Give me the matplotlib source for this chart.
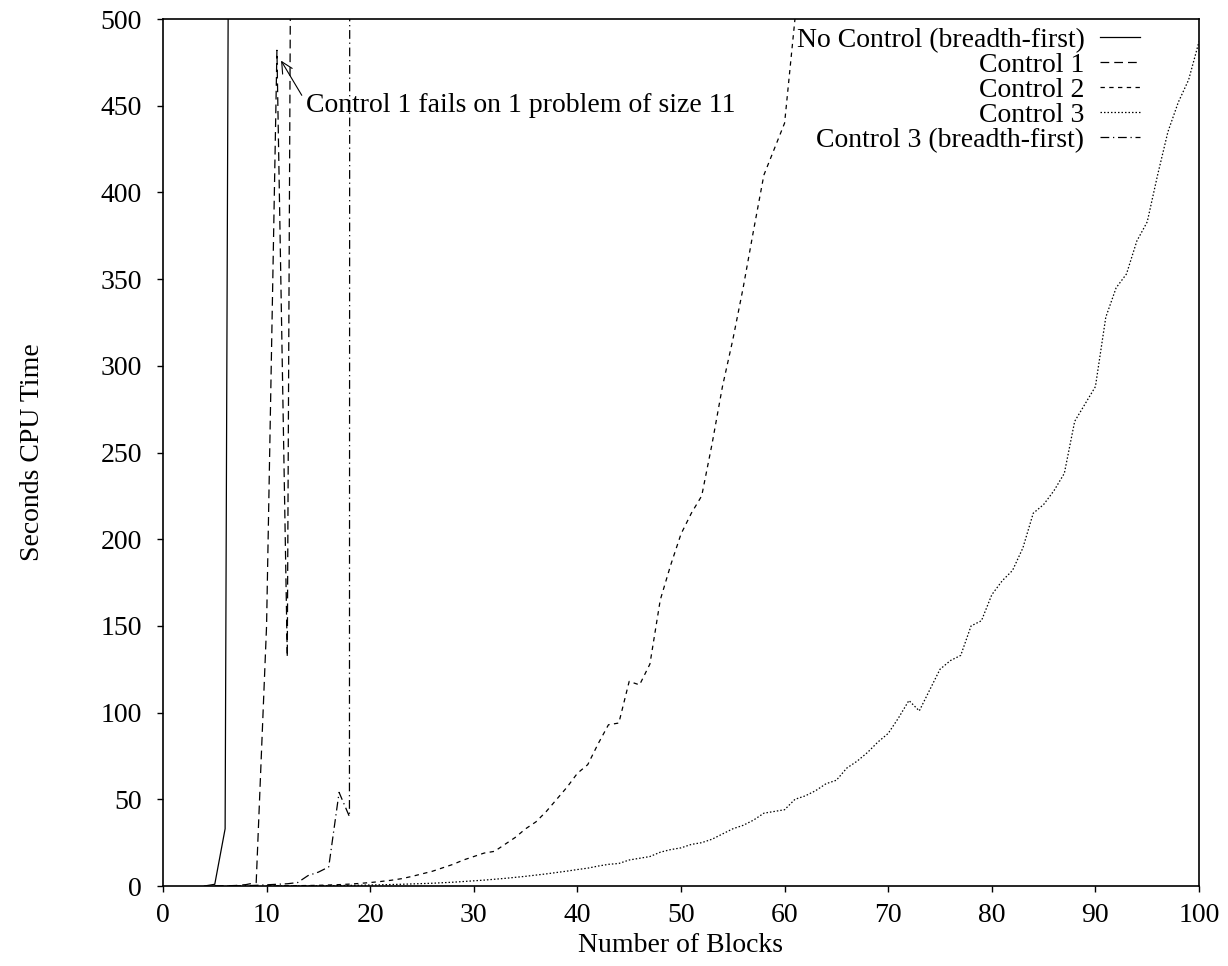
import numpy as np
import matplotlib.pyplot as plt

plt.rcParams['font.family'] = ['Liberation Serif', 'DejaVu Serif']
plt.rcParams['font.size'] = 20

# no control, breadth-first
nc_x = [4, 5, 6, 7]
nc_y = [0, 1, 33, 1640]

# control 1 (fails on one problem of size 11)
c1_x = [5, 6, 7, 8, 9, 10, 11, 12, 13]
c1_y = [0, 0.1, 0.3, 0.8, 2, 150, 482, 132, 1400]

# control 2
c2_x = list(range(10, 63))
c2_y = [0.05, 0.1, 0.15, 0.2, 0.3, 0.4, 0.6, 0.8, 1.1, 1.5,
        2, 2.6, 3.3, 4.2, 5.5, 7, 8.5, 10.5, 12.5, 15,
        17, 19, 20, 24, 28, 33, 37, 43, 50, 57,
        65, 70, 82, 93, 94, 118, 116, 128, 165, 185,
        203, 215, 225, 255, 288, 315, 345, 378, 410, 425,
        440, 500, 750]

# control 3
c3_x = list(range(10, 101))
c3_y = [0.02, 0.03, 0.05, 0.07, 0.1, 0.15, 0.2, 0.27, 0.35, 0.45,
        0.6, 0.7, 0.85, 1.0, 1.2, 1.4, 1.6, 1.9, 2.2, 2.6,
        3, 3.4, 3.9, 4.4, 5, 5.6, 6.3, 7, 7.8, 8.6,
        9.5, 10.3, 11.5, 12.5, 13, 15, 16, 17, 19.5, 21,
        22, 24, 25, 27, 30, 33, 35, 38, 42, 43,
        44, 50, 52, 55, 59, 61, 68, 72, 77, 83,
        88, 97, 107, 101, 113, 125, 130, 133, 150, 153,
        168, 176, 182, 195, 215, 220, 228, 238, 268, 278,
        288, 328, 345, 353, 372, 383, 410, 435, 452, 465,
        487]

# control 3, breadth-first
c3b_x = [5, 6, 7, 8, 9, 10, 11, 12, 13, 14, 15, 16, 17, 18, 19]
c3b_y = [0, 0, 0.1, 0.2, 0.4, 0.7, 1, 1.3, 2, 6, 8, 11, 54, 40, 20000]

fig = plt.figure(figsize=(12.28, 9.66), dpi=100)
ax = fig.add_axes([0.1327, 0.0828, 0.8437, 0.8975])

lw = 0.9
ax.plot(nc_x, nc_y, color='black', lw=lw, label='No Control (breadth-first)')
ax.plot(c1_x, c1_y, color='black', lw=lw, dashes=(7, 4), label='Control 1')
ax.plot(c2_x, c2_y, color='black', lw=lw, dashes=(3.5, 3.5), label='Control 2')
ax.plot(c3_x, c3_y, color='black', lw=lw, dashes=(1.2, 1.6), label='Control 3')
ax.plot(c3b_x, c3b_y, color='black', lw=lw, dashes=(7, 3, 1, 3),
        label='Control 3 (breadth-first)')

ax.annotate('', xy=(11.4, 476), xytext=(13.4, 456),
            arrowprops=dict(arrowstyle='->', lw=0.8, color='black',
                            shrinkA=0, shrinkB=0))
ax.text(13.8, 450, 'Control 1 fails on 1 problem of size 11', va='center', ha='left')

ax.set_xlim(0, 100)
ax.set_ylim(0, 500)
ax.set_xticks(np.arange(0, 101, 10))
ax.set_yticks(np.arange(0, 501, 50))
ax.tick_params(direction='out', length=4, width=1)
ax.tick_params(axis='x', pad=8)
ax.tick_params(axis='y', pad=11)
for s in ax.spines.values():
    s.set_linewidth(1.2)

ax.set_xlabel('Number of Blocks', labelpad=4)
ax.set_ylabel('Seconds CPU Time', labelpad=40)

ax.legend(loc='upper right', bbox_to_anchor=(0.943, 0.990), frameon=False,
          markerfirst=False, handlelength=1.45, handletextpad=0.55,
          labelspacing=-0.02, borderpad=0, borderaxespad=0)

fig.savefig('out.png', dpi=100)
